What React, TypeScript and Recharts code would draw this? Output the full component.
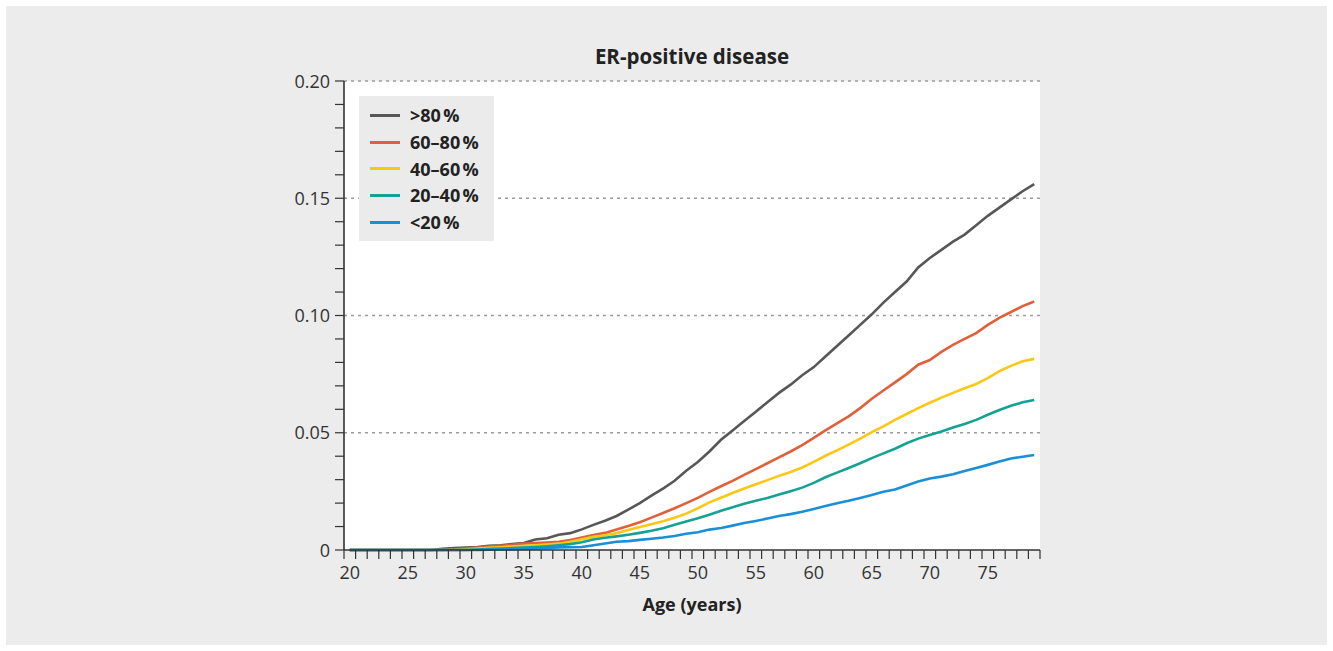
import React from "react";
import { LineChart, Line, XAxis, YAxis, ReferenceLine, ReferenceArea } from "recharts";

// age (years), one point per year
const ages = [
  20, 21, 22, 23, 24, 25, 26, 27, 28, 29, 30, 31, 32, 33, 34, 35, 36, 37, 38, 39,
  40, 41, 42, 43, 44, 45, 46, 47, 48, 49, 50, 51, 52, 53, 54, 55, 56, 57, 58, 59,
  60, 61, 62, 63, 64, 65, 66, 67, 68, 69, 70, 71, 72, 73, 74, 75, 76, 77, 78, 79,
];

const over80 = [
  0, 0, 0, 0, 0, 0, 0, 0, 0.0005, 0.0008, 0.001, 0.0013, 0.0018, 0.002, 0.0025, 0.003, 0.0045, 0.005, 0.0065, 0.0072,
  0.0088, 0.0107, 0.0125, 0.0145, 0.0172, 0.02, 0.0232, 0.0262, 0.0295, 0.0338, 0.0375, 0.042, 0.047, 0.051, 0.055, 0.059, 0.063, 0.067, 0.0705, 0.0745,
  0.078, 0.0825, 0.087, 0.0915, 0.096, 0.1005, 0.1055, 0.11, 0.1145, 0.1205, 0.1245, 0.128, 0.1315, 0.1345, 0.1385, 0.1425, 0.146, 0.1495, 0.153, 0.156,
];

const p60to80 = [
  0, 0, 0, 0, 0, 0, 0, 0, 0, 0.0003, 0.0006, 0.001, 0.0015, 0.0018, 0.0022, 0.0027, 0.003, 0.0032, 0.0035, 0.0043,
  0.0053, 0.0064, 0.0073, 0.0087, 0.0102, 0.0118, 0.0138, 0.0158, 0.0178, 0.02, 0.0222, 0.0248, 0.0272, 0.0295, 0.032, 0.0345, 0.037, 0.0395, 0.042, 0.0447,
  0.0478, 0.051, 0.054, 0.057, 0.0605, 0.0645, 0.068, 0.0715, 0.075, 0.079, 0.081, 0.0845, 0.0875, 0.09, 0.0925, 0.096, 0.099, 0.1015, 0.104, 0.106,
];

const p40to60 = [
  0, 0, 0, 0, 0, 0, 0, 0, 0, 0, 0.0003, 0.0006, 0.0009, 0.0012, 0.0015, 0.0018, 0.002, 0.0023, 0.0027, 0.0035,
  0.0046, 0.0056, 0.0063, 0.0072, 0.0085, 0.0098, 0.011, 0.0123, 0.0138, 0.0155, 0.0178, 0.0203, 0.0223, 0.0243, 0.0262, 0.028, 0.0298, 0.0316, 0.0333, 0.0352,
  0.0376, 0.0402, 0.0425, 0.0449, 0.0475, 0.0503, 0.0527, 0.0555, 0.058, 0.0605, 0.0628, 0.065, 0.067, 0.069, 0.0708, 0.0733, 0.0763, 0.0785, 0.0805, 0.0815,
];

const p20to40 = [
  0, 0, 0, 0, 0, 0, 0, 0, 0, 0, 0, 0.0002, 0.0004, 0.0006, 0.0008, 0.001, 0.0013, 0.0016, 0.002, 0.0025,
  0.0033, 0.0045, 0.0052, 0.0058, 0.0065, 0.0073, 0.0082, 0.0093, 0.0108, 0.0122, 0.0135, 0.015, 0.0167, 0.0182, 0.0197, 0.021, 0.0222, 0.0237, 0.0251, 0.0266,
  0.0286, 0.031, 0.033, 0.035, 0.037, 0.0392, 0.0412, 0.0432, 0.0455, 0.0475, 0.049, 0.0505, 0.0522, 0.0537, 0.0555, 0.0577, 0.0597, 0.0615, 0.063, 0.064,
];

const under20 = [
  0, 0, 0, 0, 0, 0, 0, 0, 0, 0, 0, 0, 0.0001, 0.0002, 0.0003, 0.0005, 0.0007, 0.0009, 0.0011, 0.0012,
  0.0013, 0.002, 0.0028, 0.0035, 0.0038, 0.0043, 0.0048, 0.0053, 0.006, 0.0069, 0.0076, 0.0087, 0.0094, 0.0104, 0.0115, 0.0124, 0.0134, 0.0145, 0.0153, 0.0163,
  0.0175, 0.0188, 0.0199, 0.021, 0.0222, 0.0235, 0.0248, 0.0258, 0.0275, 0.0292, 0.0305, 0.0313, 0.0323, 0.0337, 0.035, 0.0363, 0.0377, 0.039, 0.0398, 0.0405,
];

const xLabels = [20, 25, 30, 35, 40, 45, 50, 55, 60, 65, 70, 75];
const yLabels = ["0", "0.05", "0.10", "0.15", "0.20"];
const gridValues = [0.05, 0.1, 0.15, 0.2];

const series = [
  { key: "over80", name: ">80\u202f%", color: "#575757" },
  { key: "p60to80", name: "60\u201380\u202f%", color: "#e0603a" },
  { key: "p40to60", name: "40\u201360\u202f%", color: "#fcc712" },
  { key: "p20to40", name: "20\u201340\u202f%", color: "#14a294" },
  { key: "under20", name: "<20\u202f%", color: "#1a8fd8" },
];

const data = ages.map((age, i) => ({
  age,
  over80: over80[i],
  p60to80: p60to80[i],
  p40to60: p40to60[i],
  p20to40: p20to40[i],
  under20: under20[i],
}));

// minor ticks sit on year boundaries, labels in the middle of the year
const xTicks = Array.from({ length: 61 }, (_, i) => 19.5 + i);
const yTicks = Array.from({ length: 21 }, (_, i) => i / 100);

const W = 1333;
const H = 651;
const margin = { top: 81, right: 293, bottom: 61, left: 284 };
const plotW = W - margin.left - margin.right - 60;
const halfYear = plotW / 60 / 2;

const font = "'Open Sans', sans-serif";
const ink = "#333333";

const XTick = (props: any) => {
  const { x, y, payload } = props;
  const v = payload.value + 0.5;
  if (!xLabels.includes(v)) return <g />;
  return (
    <text x={x + halfYear} y={y + 18} textAnchor="middle" fontSize={18} fill={ink} fontFamily={font}>
      {v}
    </text>
  );
};

const YTick = (props: any) => {
  const { x, y, payload } = props;
  const hundredths = Math.round(payload.value * 100);
  if (hundredths % 5 !== 0) return <g />;
  return (
    <text x={x} y={y + 6.5} textAnchor="end" fontSize={18} fill={ink} fontFamily={font}>
      {yLabels[hundredths / 5]}
    </text>
  );
};

export default function App() {
  return (
    <div style={{ position: "absolute", left: 0, top: 0, width: W, height: H, background: "#fff", fontFamily: font }}>
      <div style={{ position: "absolute", left: 6, top: 6, width: 1321, height: 639, background: "#ebeceb" }} />
      <div style={{ position: "absolute", left: 0, top: 0 }}>
        <LineChart width={W} height={H} data={data} margin={margin}>
          <ReferenceArea x1={19.5} x2={79.5} y1={0} y2={0.2} fill="#ffffff" fillOpacity={1} stroke="none" />
          {gridValues.map((v) => (
            <ReferenceLine key={v} y={v} stroke="#9a9a9a" strokeWidth={1.3} strokeDasharray="3 4" />
          ))}
          <XAxis
            type="number"
            dataKey="age"
            domain={[19.5, 79.5]}
            ticks={xTicks}
            interval={0}
            height={40}
            tickSize={9}
            tickMargin={2}
            axisLine={{ stroke: ink, strokeWidth: 1.6 }}
            tickLine={{ stroke: ink, strokeWidth: 1.2 }}
            tick={XTick}
          />
          <YAxis
            type="number"
            domain={[0, 0.2]}
            ticks={yTicks}
            interval={0}
            width={60}
            tickSize={9}
            tickMargin={5}
            axisLine={{ stroke: ink, strokeWidth: 1.6 }}
            tickLine={{ stroke: ink, strokeWidth: 1.2 }}
            tick={YTick}
          />
          {series.map((s) => (
            <Line
              key={s.key}
              type="linear"
              dataKey={s.key}
              name={s.name}
              stroke={s.color}
              strokeWidth={2.6}
              dot={false}
              isAnimationActive={false}
            />
          ))}
        </LineChart>
      </div>
      <div
        style={{
          position: "absolute",
          left: 344,
          width: 696,
          top: 43,
          textAlign: "center",
          fontWeight: 700,
          fontSize: 20.5,
          lineHeight: "26px",
          color: "#222",
        }}
      >
        ER-positive disease
      </div>
      <div
        style={{
          position: "absolute",
          left: 344,
          width: 696,
          top: 591,
          textAlign: "center",
          fontWeight: 700,
          fontSize: 18,
          lineHeight: "26px",
          color: "#222",
        }}
      >
        Age (years)
      </div>
      <div
        style={{
          position: "absolute",
          left: 359,
          top: 96,
          width: 135,
          height: 145,
          background: "#ebebeb",
          boxSizing: "border-box",
          paddingTop: 6,
        }}
      >
        {series.map((s) => (
          <div key={s.key} style={{ display: "flex", alignItems: "center", height: 26.7 }}>
            <div style={{ width: 30, height: 3, marginLeft: 11, marginRight: 10, background: s.color }} />
            <span style={{ fontWeight: 700, fontSize: 18, color: "#222" }}>{s.name}</span>
          </div>
        ))}
      </div>
    </div>
  );
}
